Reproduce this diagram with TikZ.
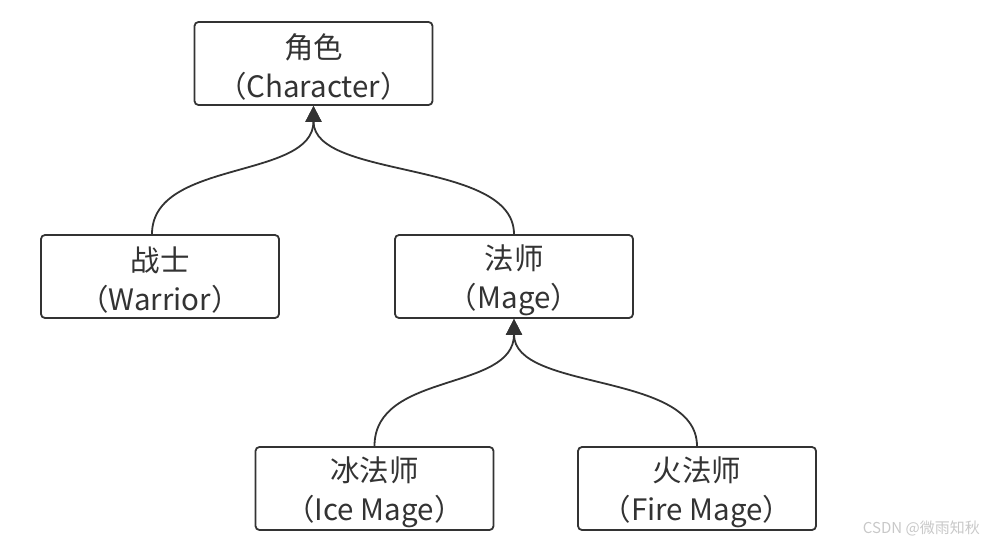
\documentclass[tikz,border=0pt]{standalone}
\usepackage{fontspec}
\setmainfont{Noto Sans CJK SC}
\usetikzlibrary{arrows.meta}
\definecolor{ink}{HTML}{333333}
\definecolor{wm}{HTML}{C8C8C8}
\newcommand{\topstrut}{\rule{0pt}{32pt}}
\begin{document}
\begin{tikzpicture}[x=1pt,y=-1pt,
  cls/.style={draw=ink,line width=1.8pt,rounded corners=4pt,minimum width=238pt,minimum height=83pt,
    align=center,text=ink,font=\fontsize{29.5}{39}\selectfont,inner sep=0pt},
  link/.style={draw=ink,line width=1.8pt,-{Triangle[length=16pt,width=16pt]}}]
\useasboundingbox (0,0) rectangle (985,546);
\node[cls] (char) at (313.5,63.5) {\topstrut 角色\\（Character）};
\node[cls] (war) at (160,276.5) {\topstrut 战士\\（Warrior）};
\node[cls] (mage) at (514,276.5) {\topstrut 法师\\（Mage）};
\node[cls] (ice) at (374.5,488.5) {\topstrut 冰法师\\（Ice Mage）};
\node[cls] (fire) at (697,488.5) {\topstrut 火法师\\（Fire Mage）};
\coordinate (wa) at ([xshift=-8pt]war.north);
\draw[link] (wa) .. controls ([yshift=75pt]wa) and (313.5,180) .. (char.south);
\draw[link] (mage.north) .. controls ([yshift=75pt]mage.north) and (313.5,180) .. (char.south);
\coordinate (ia) at (ice.north);
\draw[link] (ia) .. controls ([yshift=75pt]ia) and (514,392) .. (mage.south);
\draw[link] (fire.north) .. controls ([yshift=75pt]fire.north) and (514,392) .. (mage.south);
\node[text=wm,font=\fontsize{15}{18}\selectfont,anchor=east,inner sep=0pt] (wmk) at (980,528) {CSDN @微雨知秋};
\end{tikzpicture}
\end{document}
